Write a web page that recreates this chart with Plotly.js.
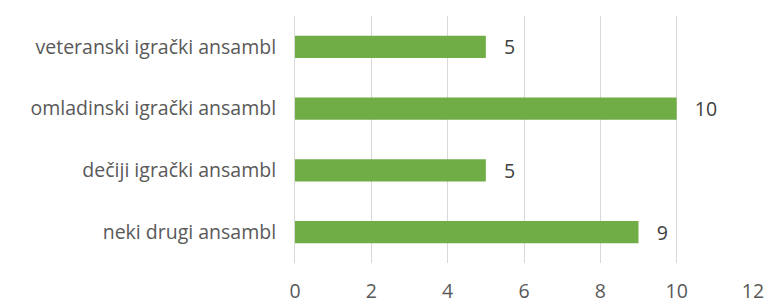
<!DOCTYPE html>
<html>
<head>
<meta charset="utf-8">
<script src="https://cdn.plot.ly/plotly-3.0.1.min.js"></script>
<style>html,body{margin:0;padding:0;background:#fff;}#chart{width:767px;height:302px;}</style>
</head>
<body>
<div id="chart"></div>
<script>
const categories = ["neki drugi ansambl", "dečiji igrački ansambl", "omladinski igrački ansambl", "veteranski igrački ansambl"];
const values = [9, 5, 10, 5];
const xTicks = [0, 2, 4, 6, 8, 10, 12];

const trace = {
  type: 'bar',
  orientation: 'h',
  y: categories,
  x: values,
  text: values.map(v => '\u00a0\u00a0\u00a0' + v),
  textposition: 'outside',
  constraintext: 'none',
  cliponaxis: false,
  textfont: {family: '"Open Sans", sans-serif', size: 19.5, color: '#404040'},
  marker: {color: '#70AD47'},
  hoverinfo: 'none'
};

const layout = {
  width: 767, height: 302,
  margin: {l: 295, r: 14, t: 16, b: 39},
  paper_bgcolor: '#fff', plot_bgcolor: '#fff',
  showlegend: false,
  bargap: 0.64,
  font: {family: '"Open Sans", sans-serif', size: 19.5, color: '#595959'},
  xaxis: {
    range: [0, 12], tickvals: xTicks, ticktext: xTicks.map(String),
    showgrid: true, gridcolor: '#d9d9d9', gridwidth: 1,
    zeroline: false, showline: false, ticks: '',
    ticklabelstandoff: 14, fixedrange: true
  },
  yaxis: {
    categoryorder: 'array', categoryarray: categories,
    showline: true, linecolor: '#d9d9d9', linewidth: 1,
    showgrid: false, zeroline: false, ticks: '',
    ticklabelstandoff: 14, fixedrange: true
  }
};

Plotly.newPlot('chart', [trace], layout, {displayModeBar: false, staticPlot: true});
</script>
</body>
</html>
